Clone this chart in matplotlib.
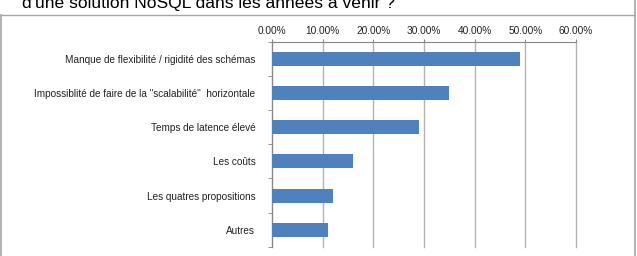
import matplotlib
matplotlib.use("Agg")
import matplotlib.pyplot as plt
from matplotlib.lines import Line2D
from matplotlib.ticker import PercentFormatter, FixedLocator

title = "d'une solution NoSQL dans les années à venir ?"
categories = ["Manque de flexibilité / rigidité des schémas",
              "Impossiblité de faire de la \"scalabilité\"  horizontale",
              "Temps de latence élevé",
              "Les coûts",
              "Les quatres propositions",
              "Autres"]
values = [0.49, 0.35, 0.29, 0.16, 0.12, 0.11]
xticks = [0.0, 0.1, 0.2, 0.3, 0.4, 0.5, 0.6]

W, H = 637, 256
fig = plt.figure(figsize=(W / 100, H / 100), dpi=100)
fig.patch.set_facecolor("white")
plt.rcParams["font.family"] = ["Liberation Sans", "DejaVu Sans"]

# frame around the chart
grey = "#a6a6a6"
fig.add_artist(Line2D([1 / W, 635 / W], [1 - 15 / H, 1 - 15 / H], color=grey, lw=1))
fig.add_artist(Line2D([1.5 / W, 1.5 / W], [0, 1 - 15 / H], color=grey, lw=1.2))
fig.add_artist(Line2D([634.5 / W, 634.5 / W], [0, 1], color=grey, lw=1.2))

# title is cut by the top edge in the original screenshot
fig.text(22 / W, 1 - 8 / H, title, fontsize=12.6, color="black", va="baseline", ha="left")

ax = fig.add_axes([272 / W, 1 - 246.7 / H, 304 / W, 204.7 / H])
ypos = list(range(len(categories)))
ax.barh(ypos, values, height=0.41, color="#4f81bd", zorder=3)
ax.set_ylim(len(categories) - 0.5, -0.5)
ax.set_xlim(0, 0.6)

ax.xaxis.tick_top()
ax.set_xticks(xticks)
ax.xaxis.set_major_formatter(PercentFormatter(1, decimals=2))
ax.tick_params(axis="x", direction="out", length=2.5, color="#868686", pad=2,
               labelsize=7.3, labelcolor="#222222")
ax.grid(axis="x", color="#b3b3b3", lw=1, zorder=0)
for gl in ax.get_xgridlines():
    gl.set_clip_on(False)

ax.set_yticks(ypos)
ax.set_yticklabels(categories)
ax.yaxis.set_minor_locator(FixedLocator([i - 0.5 for i in range(len(categories) + 1)]))
ax.tick_params(axis="y", which="major", length=0, pad=12, labelsize=7.2, labelcolor="#222222")
ax.tick_params(axis="y", which="minor", length=3, color="#868686", direction="out")

for s in ["right", "bottom"]:
    ax.spines[s].set_visible(False)
for s in ["top", "left"]:
    ax.spines[s].set_color("#868686")

fig.savefig("out.png", dpi=100)
